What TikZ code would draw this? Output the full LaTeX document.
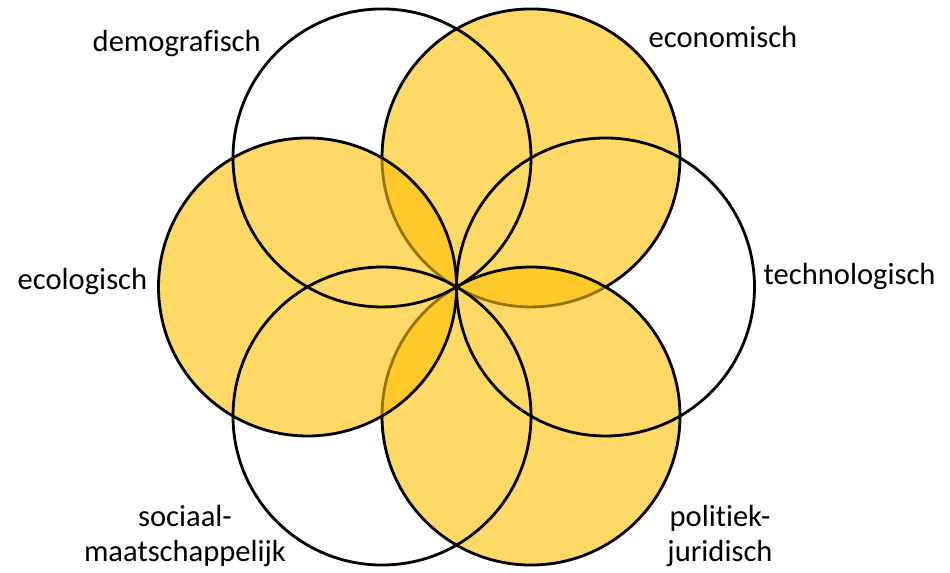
\documentclass[tikz,border=0pt]{standalone}
\usepackage{fontspec}
\setmainfont{Carlito}[Ligatures=NoCommon]
\definecolor{gold}{HTML}{FFC000}
\tikzset{
  ring/.style={draw=black, line width=0.8pt},
  goldring/.style={ring, fill=gold, fill opacity=0.6},
  lbl/.style={inner sep=0pt, anchor=base west, align=left, font=\fontsize{8.7}{10}\selectfont},
  lbl2/.style={lbl, anchor=base, align=center}
}
\begin{document}
\begin{tikzpicture}
  \useasboundingbox (-4.565,-2.86) rectangle (4.935,2.87);
  \def\rad{1.49}
  % filled circles
  \draw[goldring] (60:\rad) circle (\rad);
  \draw[goldring] (-60:\rad) circle (\rad);
  \draw[goldring] (180:\rad) circle (\rad);
  % open circles
  \foreach \a in {0,120,240}
    \draw[ring] (\a:\rad) circle (\rad);

  % labels
  \node[lbl] (demo) at (-3.645,2.35) {demografisch};
  \node[lbl] (econ) at (1.915,2.39) {economisch};
  \node[lbl] (tech) at (3.065,0.02) {technologisch};
  \node[lbl] (ecol) at (-4.395,-0.03) {ecologisch};
  \node[lbl2] (soci) at (-2.715,-2.75) {sociaal-\\maatschappelijk};
  \node[lbl2] (poli) at (2.635,-2.75) {politiek-\\juridisch};
\end{tikzpicture}
\end{document}
